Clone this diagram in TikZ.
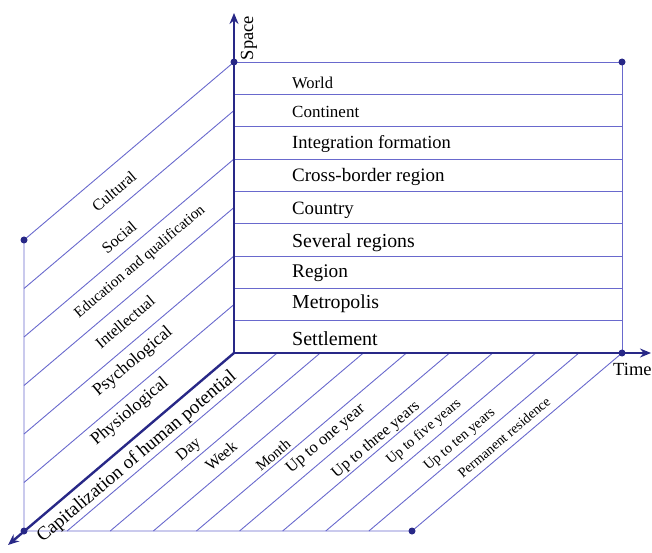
\documentclass[tikz,border=0pt]{standalone}
\usepackage{fontspec}
\setmainfont{Liberation Serif}
\usetikzlibrary{calc, arrows.meta}

\definecolor{axisblue}{RGB}{40,40,135}
\definecolor{hatchblue}{RGB}{105,105,205}
\newcommand{\fsz}[1]{\fontsize{#1}{#1}\selectfont}

\begin{document}
\begin{tikzpicture}
    [x=1pt, y=1pt,
     mainaxis/.style={draw=axisblue, line width=2.4pt, -{Stealth[length=11pt, width=9pt]}},
     hatch/.style={draw=hatchblue, line width=0.9pt},
     knot/.style={circle, fill=axisblue, inner sep=0pt, minimum size=7pt},
     band/.style={anchor=base west, inner sep=0pt},
     tilted/.style={rotate=40.28, inner sep=0pt}]

    \useasboundingbox (0,0) rectangle (652,552);

    % corners of the three planes
    \coordinate (o)  at (234,199);
    \coordinate (st) at (234,490);
    \coordinate (tr) at (622,490);
    \coordinate (tt) at (622,199);
    \coordinate (lt) at (24,312);
    \coordinate (lb) at (24,21);
    \coordinate (br) at (412,21);
    % arrow tips
    \coordinate (sa) at (234,539);
    \coordinate (ta) at (651,199);
    \coordinate (ca) at (8,7);

    % space plane
    \draw[hatch] (st) -- (tr) -- (tt);
    \foreach \i in {1,...,8}
      \draw[hatch] ($(o)!\i/9!(st)$) -- ($(tt)!\i/9!(tr)$);

    % human potential plane
    \draw[hatch] (st) -- (lt) -- (lb);
    \foreach \i in {1,...,5}
      \draw[hatch] ($(lt)!\i/6!(lb)$) -- ($(st)!\i/6!(o)$);

    % time plane
    \draw[hatch] (lb) -- (br) -- (tt);
    \foreach \i in {1,...,8}
      \draw[hatch] ($(lb)!\i/9!(br)$) -- ($(o)!\i/9!(tt)$);

    % axes
    \draw[mainaxis] (o) -- (sa);
    \draw[mainaxis] (o) -- (ta);
    \draw[mainaxis] (o) -- (ca);

    \foreach \c in {st,tr,tt,lt,lb,br}
      \node[knot] (dot-\c) at (\c) {};

    \node[rotate=90, font=\fsz{18.5}] (space) at (249,514) {Space};
    \node[anchor=west, inner sep=0pt, font=\fsz{18.5}] (time) at (613,183) {Time};

    % space levels
    \foreach \txt/\bl/\fs [count=\i] in {World/463/16.5, Continent/434/17,
        Integration formation/403/18.5, Cross-border region/370/19,
        Country/337/18.8, Several regions/305/19.8, Region/275/19.3,
        Metropolis/244/19.8, Settlement/207/20}
      \node[band, font=\fsz{\fs}] (s-\i) at (292,\bl) {\txt};

    % kinds of potential
    \foreach \txt/\x/\y/\fs [count=\i] in {Cultural/114/361/16, Social/119/315/16,
        Education and qualification/140/290/15, Intellectual/125/230/16,
        Psychological/133/190/17.5, Physiological/130/140/17.5}
      \node[tilted, font=\fsz{\fs}] (p-\i) at (\x,\y) {\txt};

    % durations
    \foreach \txt/\x/\y/\fs [count=\i] in {Capitalization of human potential/137/95/19,
        Day/189/102/16, Week/221/96/16, Month/273/97/15,
        Up to one year/326/113/16.5, Up to three years/376/112/16,
        Up to five years/424/120/14.5, Up to ten years/460/112/14.5,
        Permanent residence/504/115/14}
      \node[tilted, font=\fsz{\fs}] (t-\i) at (\x,\y) {\txt};
\end{tikzpicture}
\end{document}
